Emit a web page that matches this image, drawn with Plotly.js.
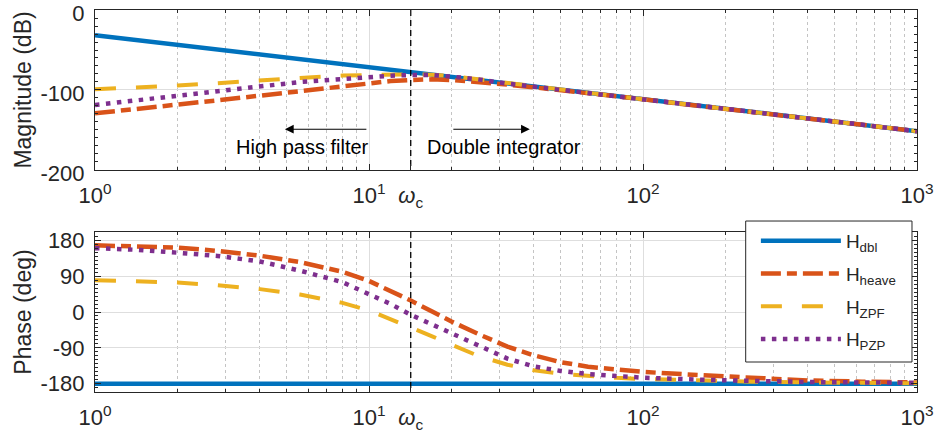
<!DOCTYPE html>
<html>
<head>
<meta charset="utf-8">
<script src="https://cdn.plot.ly/plotly-3.0.1.min.js"></script>
<style>html,body{margin:0;padding:0;background:#fff}#chart{width:934px;height:439px}</style>
</head>
<body>
<div id="chart"></div>
<script>
// frequencies (rad/s)
var freq = [1, 1.4, 2, 2.8, 4, 5.6, 8, 10, 12, 14.2, 17, 20, 25, 32, 40, 50, 63, 80, 100, 160, 250, 400, 630, 1000];
var omegaC = 14.2;

// magnitude (dB)
var magDbl   = [-31.5, -37.4, -43.6, -49.5, -55.6, -61.4, -67.6, -71.5, -74.7, -77.6, -80.7, -83.5, -87.4, -91.7, -95.6, -99.5, -103.5, -107.6, -111.5, -119.7, -127.4, -135.6, -143.5, -151.5];
var magHeave = [-129.2, -124.2, -118.8, -112.9, -107.1, -101.3, -95.4, -91.3, -88.8, -87.5, -86.7, -87.5, -90, -93.3, -96.7, -100, -103.8, -107.8, -111.7, -119.8, -127.5, -135.6, -143.5, -151.5];
var magZPF   = [-99, -97, -94.5, -91.5, -87.8, -85, -82, -81, -80.5, -80.3, -80.8, -82.5, -86.5, -91.3, -95.6, -99.5, -103.5, -107.6, -111.5, -119.7, -127.4, -135.6, -143.5, -151.5];
var magPZP   = [-118.8, -113, -107.5, -101.7, -95.8, -90, -86.3, -83.8, -82.1, -81.3, -81.3, -83.3, -86.7, -92.1, -96.1, -99.8, -103.6, -107.6, -111.5, -119.7, -127.4, -135.6, -143.5, -151.5];

// phase (deg)
var phDbl   = [-180, -180, -180, -180, -180, -180, -180, -180, -180, -180, -180, -180, -180, -180, -180, -180, -180, -180, -180, -180, -180, -180, -180, -180];
var phHeave = [167.5, 165.5, 162, 153.5, 141.5, 125.5, 101, 78, 54, 29, 1, -24, -55, -87, -109, -126, -137.5, -145, -150.5, -158.5, -165.5, -172, -175, -177];
var phZPF   = [80, 78, 74, 67.5, 57.5, 44, 23, 4, -17.5, -38, -61, -82, -110, -132.5, -146.5, -155, -161, -165.5, -168.5, -172.5, -175, -177, -178, -179];
var phPZP   = [160.5, 156.5, 149, 141, 127, 104, 75, 46, 20, -7, -31, -53, -84, -117, -137, -148, -156, -161.5, -165, -170, -173.5, -176, -177, -178];

var names = ['H<sub>dbl</sub>', 'H<sub>heave</sub>', 'H<sub>ZPF</sub>', 'H<sub>PZP</sub>'];
var colors = ['#0072BD', '#D95319', '#EDB120', '#7E2F8E'];
var dashes = ['solid', '20px,6px,10px,6px', '21px,20px', '4.5px,6.5px'];
var widths = [4.5, 4.5, 4, 4.5];

var xTickVals = [1, 10, omegaC, 100, 1000];
var xTickText = ['10<sup>0</sup>', '10<sup>1</sup>', '<i>ω</i><sub>c</sub>', '10<sup>2</sup>', '10<sup>3</sup>'];
var xMinor = [2,3,4,5,6,7,8,9,20,30,40,50,60,70,80,90,200,300,400,500,600,700,800,900];

var mags = [magDbl, magHeave, magZPF, magPZP];
var phs = [phDbl, phHeave, phZPF, phPZP];
var traces = [];
for (var i = 0; i < 4; i++) {
  traces.push({x: freq, y: mags[i], xaxis: 'x', yaxis: 'y', type: 'scatter', mode: 'lines',
    line: {color: colors[i], width: widths[i], dash: dashes[i]}, showlegend: false, hoverinfo: 'skip'});
}
for (var i = 0; i < 4; i++) {
  traces.push({x: freq, y: phs[i], xaxis: 'x2', yaxis: 'y2', type: 'scatter', mode: 'lines', name: names[i],
    legendgroup: 'g' + i,
    line: {color: colors[i], width: widths[i], dash: dashes[i]}, showlegend: true, hoverinfo: 'skip'});
}
// omega_c markers
traces.push({x: [omegaC, omegaC], y: [0, -200], xaxis: 'x', yaxis: 'y', mode: 'lines',
  line: {color: '#000', width: 1.3, dash: '6px,4px'}, showlegend: false, hoverinfo: 'skip'});
traces.push({x: [omegaC, omegaC], y: [201, -201], xaxis: 'x2', yaxis: 'y2', mode: 'lines',
  line: {color: '#000', width: 1.3, dash: '6px,4px'}, showlegend: false, hoverinfo: 'skip'});

var fontFam = '"Liberation Sans", Arial, Helvetica, sans-serif';
var axCol = '#262626';
function xax(anchor) {
  return {type: 'log', range: [0, 3], anchor: anchor, showline: true, linecolor: axCol, linewidth: 1, mirror: 'ticks',
    ticks: 'inside', ticklen: 6, tickcolor: axCol, tickmode: 'array', tickvals: xTickVals, ticktext: xTickText,
    tickfont: {size: 22, color: axCol, family: fontFam}, ticklabelstandoff: 6, ticklabeloverflow: 'allow',
    showgrid: true, gridcolor: '#dedede', gridwidth: 1, zeroline: false,
    minor: {tickmode: 'array', tickvals: xMinor, ticks: 'inside', ticklen: 3, tickcolor: axCol,
      showgrid: true, gridcolor: '#c4c4c4', griddash: 'dot', gridwidth: 1}};
}
var layout = {
  width: 934, height: 439,
  margin: {l: 95, r: 17, t: 10, b: 47},
  paper_bgcolor: '#fff', plot_bgcolor: '#fff',
  font: {family: fontFam, color: axCol},
  xaxis: xax('y'),
  xaxis2: xax('y2'),
  yaxis: {domain: [0.5812, 1], range: [-200, 0], anchor: 'x', showline: true, linecolor: axCol, mirror: 'ticks',
    ticks: 'inside', ticklen: 6, tickcolor: axCol, tickvals: [-200, -100, 0], ticktext: ['-200', '-100', '0'],
    tickfont: {size: 22, color: axCol}, ticklabelstandoff: 5, ticklabelshift: 3, ticklabeloverflow: 'allow',
    showgrid: true, gridcolor: '#dedede', zeroline: false,
    minor: {dtick: 10, ticks: 'inside', ticklen: 3, tickcolor: axCol, showgrid: false},
    title: {text: 'Magnitude (dB)', font: {size: 23, color: axCol}, standoff: 2}},
  yaxis2: {domain: [0, 0.4188], range: [-201, 201], anchor: 'x2', showline: true, linecolor: axCol, mirror: 'ticks',
    ticks: 'inside', ticklen: 6, tickcolor: axCol, tickvals: [-180, -90, 0, 90, 180], ticktext: ['-180', '-90', '0', '90', '180'],
    tickfont: {size: 22, color: axCol}, ticklabelstandoff: 5, ticklabeloverflow: 'allow',
    showgrid: true, gridcolor: '#dedede', zeroline: false,
    minor: {dtick: 10, tick0: 0, ticks: 'inside', ticklen: 3, tickcolor: axCol, showgrid: false},
    title: {text: 'Phase (deg)', font: {size: 23, color: axCol}, standoff: 2}},
  showlegend: true,
  legend: {x: 0.804, y: 0.445, xanchor: 'left', yanchor: 'top', bgcolor: 'rgba(0,0,0,0)', borderwidth: 0,
    font: {size: 19, color: axCol}, itemwidth: 80, tracegroupgap: 5},
  shapes: [
    {type: 'rect', xref: 'paper', yref: 'paper', x0: 0.7916, x1: 0.9939, y0: 0.0785, y1: 0.4476,
      fillcolor: '#fff', line: {color: axCol, width: 1}, layer: 'above'}
  ],
  annotations: [
    {xref: 'paper', yref: 'paper', x: 0.252, y: 0.641, xanchor: 'center', yanchor: 'middle', text: 'High pass filter', showarrow: false,
      font: {size: 20, color: '#000'}},
    {xref: 'paper', yref: 'paper', x: 0.498, y: 0.641, xanchor: 'center', yanchor: 'middle', text: 'Double integrator', showarrow: false,
      font: {size: 20, color: '#000'}},
    {xref: 'paper', yref: 'paper', x: 0.231, y: 0.688, ax: 83, ay: 0, text: '', showarrow: true,
      arrowhead: 2, arrowsize: 1.6, arrowwidth: 1.1, arrowcolor: '#000'},
    {xref: 'paper', yref: 'paper', x: 0.529, y: 0.688, ax: -78, ay: 0, text: '', showarrow: true,
      arrowhead: 2, arrowsize: 1.6, arrowwidth: 1.1, arrowcolor: '#000'}
  ]
};
Plotly.newPlot('chart', traces, layout, {displayModeBar: false, staticPlot: true});
</script>
</body>
</html>
